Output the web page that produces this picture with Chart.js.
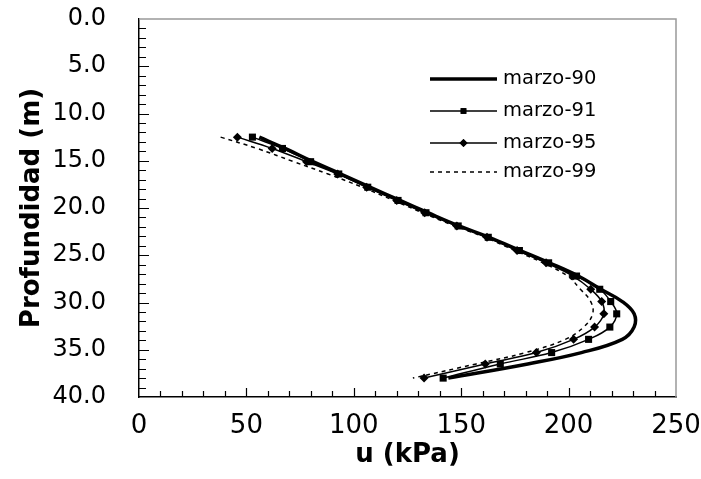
<!DOCTYPE html>
<html lang="es">
<head>
  <meta charset="UTF-8">
  <title>Profundidad vs u</title>
  <script src="https://cdn.jsdelivr.net/npm/chart.js"></script>
  <style>
    html, body { margin: 0; padding: 0; background: #fff; }
    #wrap { width: 701px; height: 479px; }
  </style>
</head>
<body>
  <div id="wrap"><canvas id="chart" width="701" height="479"></canvas></div>

  <script>
    // depth (m) of each reading, shared by all four surveys
    const depths   = [12.5, 13.7, 15.1, 16.4, 17.8, 19.2, 20.5, 21.9, 23.1, 24.5, 25.8, 27.2, 28.6, 29.9, 31.2, 32.6, 33.9, 35.3, 36.5, 38.0];
    // pore pressure u (kPa)
    const marzo90  = [56, 68, 81, 94, 107.5, 121.5, 134.5, 149, 163, 177.5, 191, 204.5, 215, 225, 230.5, 230.5, 225, 206, 181, 144];
    const marzo91  = [52.8, 66.8, 79.9, 93, 106.5, 120.6, 133.6, 148.6, 162.6, 177.1, 190.7, 203.7, 214.5, 219.6, 222.4, 219.2, 209.3, 192.1, 168.2, 141.6];
    const marzo95  = [45.8, 62, 78, 92.5, 106, 120, 133, 148, 162, 176, 189.5, 202, 210.3, 215.4, 216.4, 212.1, 202.3, 185, 161.2, 132.7];
    const marzo99  = [38, 55, 72, 88, 104, 118.5, 132, 147, 161, 175, 188, 199.5, 205.5, 210.3, 211.2, 207, 198.5, 180, 157, 127.5];
    const seriesNames = ['marzo-90', 'marzo-91', 'marzo-95', 'marzo-99'];

    const xTicks = [0, 50, 100, 150, 200, 250];
    const yTicks = [0, 5, 10, 15, 20, 25, 30, 35, 40];

    function toPoints(values) {
      return values.map((u, i) => ({ x: u, y: depths[i] }));
    }

    Chart.defaults.font.family = '"DejaVu Sans", Arial, sans-serif';
    Chart.defaults.color = '#000';

    // inner tick marks + grey top/right frame
    const frameTicks = {
      id: 'frameTicks',
      afterDraw(chart) {
        const { ctx, chartArea: a, scales: { x, y } } = chart;
        ctx.save();
        ctx.strokeStyle = '#999';
        ctx.lineWidth = 1.5;
        ctx.beginPath();
        ctx.moveTo(a.left, a.top);
        ctx.lineTo(a.right, a.top);
        ctx.lineTo(a.right, a.bottom);
        ctx.stroke();

        ctx.strokeStyle = '#000';
        ctx.lineWidth = 1.2;
        ctx.beginPath();
        for (let v = 10; v < 250; v += 10) {
          const px = Math.round(x.getPixelForValue(v)) + 0.5;
          const len = v % 50 === 0 ? 9 : 6;
          ctx.moveTo(px, a.bottom);
          ctx.lineTo(px, a.bottom - len);
        }
        for (let v = 1; v < 40; v++) {
          const py = Math.round(y.getPixelForValue(v)) + 0.5;
          const len = v % 5 === 0 ? 10 : 7;
          ctx.moveTo(a.left, py);
          ctx.lineTo(a.left + len, py);
        }
        ctx.stroke();
        ctx.restore();
      }
    };

    // legend drawn inside the plot area
    const innerLegend = {
      id: 'innerLegend',
      afterDraw(chart) {
        const { ctx } = chart;
        const rowsY = [79, 111, 143, 172];
        const x0 = 430, x1 = 497;
        ctx.save();
        chart.data.datasets.forEach((ds, i) => {
          const yy = rowsY[i];
          ctx.strokeStyle = '#000';
          ctx.lineWidth = ds.borderWidth;
          ctx.setLineDash(ds.borderDash || []);
          ctx.beginPath();
          ctx.moveTo(x0, yy);
          ctx.lineTo(x1, yy);
          ctx.stroke();
          ctx.setLineDash([]);
          if (ds.pointRadius > 0) {
            ctx.fillStyle = '#000';
            Chart.helpers.drawPoint(ctx, { pointStyle: ds.pointStyle, radius: 4, borderWidth: 0 }, (x0 + x1) / 2, yy);
            ctx.fill();
          }
          ctx.fillStyle = '#000';
          ctx.font = '19.5px "DejaVu Sans", Arial, sans-serif';
          ctx.textBaseline = 'middle';
          ctx.textAlign = 'left';
          ctx.fillText(ds.label, 503, yy);
        });
        ctx.restore();
      }
    };

    const ctx = document.getElementById('chart').getContext('2d');
    new Chart(ctx, {
      type: 'scatter',
      data: {
        datasets: [
          {
            label: seriesNames[0],
            data: toPoints(marzo90),
            showLine: true,
            borderColor: '#000',
            borderWidth: 3.5,
            pointRadius: 0,
            tension: 0.4
          },
          {
            label: seriesNames[1],
            data: toPoints(marzo91),
            showLine: true,
            borderColor: '#000',
            backgroundColor: '#000',
            borderWidth: 1.5,
            pointStyle: 'rect',
            pointRadius: 5,
            pointBorderWidth: 0,
            tension: 0.4
          },
          {
            label: seriesNames[2],
            data: toPoints(marzo95),
            showLine: true,
            borderColor: '#000',
            backgroundColor: '#000',
            borderWidth: 1.5,
            pointStyle: 'rectRot',
            pointRadius: 4.5,
            pointBorderWidth: 0,
            tension: 0.4
          },
          {
            label: seriesNames[3],
            data: toPoints(marzo99),
            showLine: true,
            borderColor: '#000',
            borderWidth: 1.5,
            borderDash: [4, 4],
            pointRadius: 0,
            tension: 0.4
          }
        ]
      },
      options: {
        responsive: false,
        animation: false,
        layout: { padding: 0 },
        plugins: {
          legend: { display: false },
          tooltip: { enabled: false }
        },
        scales: {
          x: {
            type: 'linear',
            min: 0,
            max: 250,
            afterBuildTicks: s => { s.ticks = xTicks.map(v => ({ value: v })); },
            afterFit: s => { s.height = 82; s.paddingLeft = 0; s.paddingRight = 25; },
            grid: { display: false },
            border: { display: true, color: '#000', width: 1.5 },
            ticks: { font: { size: 26 }, padding: 6, maxRotation: 0 },
            title: {
              display: true,
              text: 'u (kPa)',
              font: { size: 26, weight: 'bold' },
              padding: { top: 0, bottom: 8 }
            }
          },
          y: {
            type: 'linear',
            reverse: true,
            min: 0,
            max: 40,
            afterBuildTicks: s => { s.ticks = yTicks.map(v => ({ value: v })); },
            afterFit: s => { s.width = 139; s.paddingTop = 19; s.paddingBottom = 0; },
            grid: { display: false },
            border: { display: true, color: '#000', width: 1.5 },
            ticks: { font: { size: 24 }, padding: 25, callback: v => v.toFixed(1) },
            title: {
              display: true,
              text: 'Profundidad (m)',
              font: { size: 26, weight: 'bold' },
              padding: { top: 17, bottom: 0 }
            }
          }
        }
      },
      plugins: [frameTicks, innerLegend]
    });
  </script>
</body>
</html>
